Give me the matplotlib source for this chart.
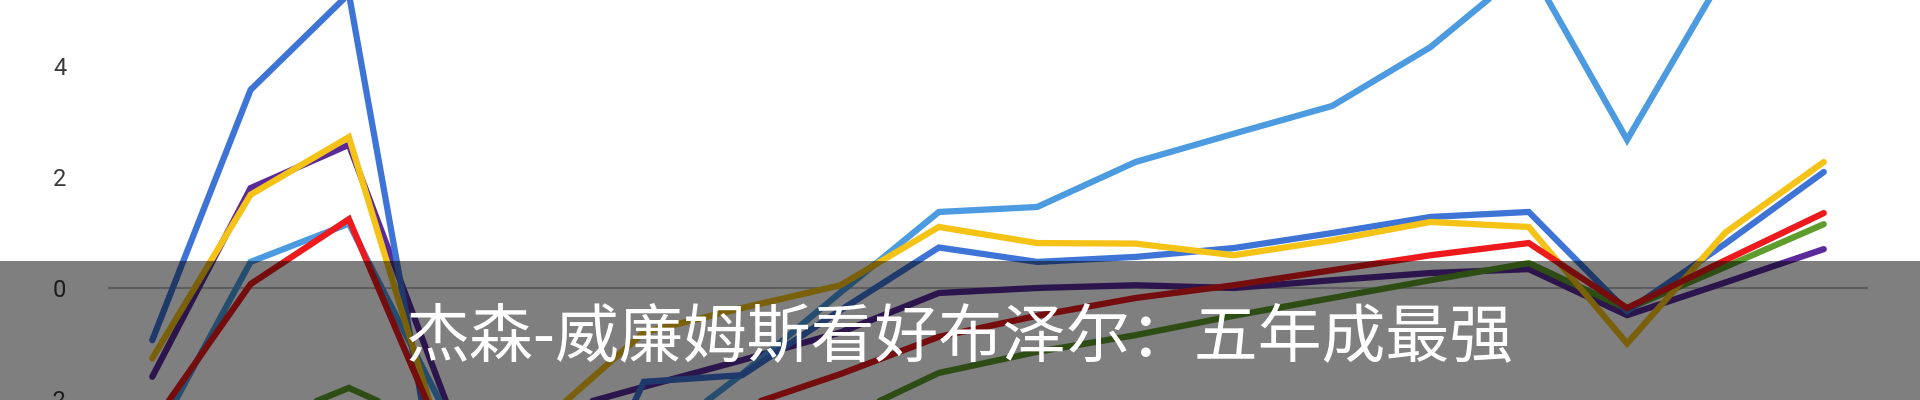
#!/usr/bin/env python3
# plot.py
# 折线图 + 底部半透明字幕条
#
# Usage: python3 plot.py  ->  out.png (1920x400)

import numpy as np
import matplotlib
matplotlib.use('Agg')
import matplotlib.pyplot as plt
from matplotlib.patches import Rectangle

# ---- data (values below -2 are off-screen estimates) ----
light_blue = [-2.8, 0.47, 1.16, -2.3, -3.2, -2.9, -1.55, -0.08, 1.37, 1.46,
              2.27, 2.78, 3.28, 4.34, 5.8, 2.67, 5.7, 6.3]
blue = [-0.94, 3.57, 5.3, -4.6, -5.5, -1.69, -1.57, -0.4, 0.73, 0.47,
        0.56, 0.72, 0.99, 1.28, 1.37, -0.42, 0.8, 2.09]
yellow = [-1.27, 1.68, 2.72, -3.1, -2.36, -0.8, -0.36, 0.05, 1.1, 0.81,
          0.8, 0.59, 0.86, 1.19, 1.1, -1.0, 1.0, 2.27]
purple = [-1.6, 1.8, 2.58, -2.1, -2.27, -1.78, -1.3, -0.8, -0.09, 0.0,
          0.05, 0.0, 0.14, 0.27, 0.34, -0.49, 0.1, 0.7]
red = [-2.46, 0.07, 1.24, -2.9, -3.0, -2.6, -2.15, -1.55, -0.88, -0.5,
       -0.18, 0.05, 0.32, 0.59, 0.81, -0.36, 0.5, 1.35]
green = [-3.3, -2.52, -1.8, -2.6, -2.9, -2.8, -2.6, -2.37, -1.53, -1.15,
         -0.85, -0.5, -0.18, 0.14, 0.45, -0.38, 0.38, 1.15]

y_ticks = [-2, 0, 2, 4]
caption = '杰森-威廉姆斯看好布泽尔：五年成最强'

# drawing order: first drawn ends up at the bottom
series = [
    (purple, '#5a2a9a'),
    (green, '#5e9c2c'),
    (light_blue, '#4c9be0'),
    (blue, '#3d74d6'),
    (yellow, '#f5c216'),
    (red, '#ec1a1c'),
]


def main():
    fig = plt.figure(figsize=(19.2, 4.0), dpi=100)
    fig.patch.set_facecolor('white')

    ax = fig.add_axes([108 / 1920, 0, 1760 / 1920, 1])
    x = np.arange(len(blue))

    ax.axhline(0, color='#bdbdbd', linewidth=1.5, zorder=1)
    for vals, col in series:
        ax.plot(x, vals, color=col, linewidth=4.5, solid_joinstyle='miter',
                solid_capstyle='round', zorder=2)

    ax.set_xlim(-0.45, len(blue) - 1 + 0.45)
    ax.set_ylim(-2.018, 5.189)
    ax.set_xticks([])
    ax.set_yticks(y_ticks)
    ax.set_yticklabels([str(t) for t in y_ticks])
    ax.tick_params(axis='y', length=0, pad=30, labelsize=17, labelcolor='#3a3a3a')
    for lbl in ax.get_yticklabels():
        lbl.set_fontfamily('Roboto')
    for s in ax.spines.values():
        s.set_visible(False)
    ax.set_facecolor('none')

    # translucent caption bar over the lower part
    bar_h = (400 - 261) / 400
    fig.patches.append(Rectangle((0, 0), 1, bar_h, transform=fig.transFigure,
                                 facecolor='black', alpha=0.5, edgecolor='none',
                                 zorder=10))
    fig.text(0.5, 1 - 338 / 400, caption, color='white', fontsize=46,
             family=['Noto Sans CJK SC', 'DejaVu Sans'],
             ha='center', va='center', zorder=11)

    fig.savefig('out.png', dpi=100)
    plt.close(fig)


if __name__ == '__main__':
    main()
